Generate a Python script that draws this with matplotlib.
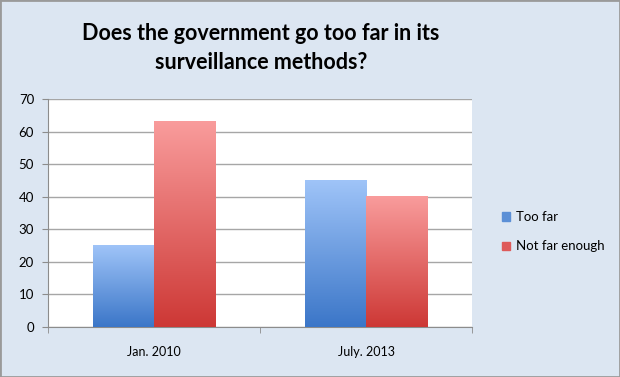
import numpy as np
import matplotlib.pyplot as plt
from matplotlib.colors import LinearSegmentedColormap
from matplotlib.patches import Rectangle

# Data
categories = ['Jan. 2010', 'July. 2013']
too_far = [25, 45]
not_far_enough = [63, 40]
series_names = ['Too far', 'Not far enough']

bg = '#dce6f2'
blue_cmap = LinearSegmentedColormap.from_list('b', ['#3b76c8', '#9fc4f8'])
red_cmap = LinearSegmentedColormap.from_list('r', ['#cd3835', '#f99c9c'])

fig = plt.figure(figsize=(6.2, 3.77), dpi=100, facecolor=bg)
fig.patches.append(Rectangle((0, 0), 1, 1, transform=fig.transFigure,
                             fill=False, edgecolor='#9a9a9a', linewidth=2))
ax = fig.add_axes([0.0774, 0.1326, 0.6839, 0.6048])
ax.set_facecolor('white')

x = np.arange(len(categories))
w = 0.288
grad = np.linspace(0, 1, 256).reshape(-1, 1)

bars1 = ax.bar(x - w / 2, too_far, w, color='#6b9de0', label=series_names[0], zorder=2)
bars2 = ax.bar(x + w / 2, not_far_enough, w, color='#e46a6a', label=series_names[1], zorder=2)

# gradient fill for each bar
for bars, cmap in [(bars1, blue_cmap), (bars2, red_cmap)]:
    for b in bars:
        x0, y0 = b.get_x(), b.get_y()
        x1, y1 = x0 + b.get_width(), y0 + b.get_height()
        ax.imshow(grad, extent=[x0, x1, y0, y1], origin='lower', cmap=cmap,
                  aspect='auto', zorder=3)
        b.set_alpha(0)

ax.set_xlim(-0.5, 1.5)
ax.set_ylim(0, 70)
ax.set_yticks(range(0, 71, 10))
ax.yaxis.grid(True, color='#a6a6a6', linewidth=1)
ax.set_axisbelow(True)

ax.set_xticks(x)
ax.set_xticklabels(categories, fontsize=9, family='Lato')
ax.set_xticks([-0.5, 0.5, 1.5], minor=True)
ax.tick_params(axis='x', which='major', length=0, pad=14)
ax.tick_params(axis='x', which='minor', length=4, color='#8c8c8c', direction='out')
ax.tick_params(axis='y', length=4, color='#8c8c8c', labelsize=9.5, pad=6)
for lab in ax.get_yticklabels():
    lab.set_family('Lato')

for s in ['top', 'right']:
    ax.spines[s].set_visible(False)
for s in ['left', 'bottom']:
    ax.spines[s].set_color('#8c8c8c')

fig.text(0.421, 0.873, 'Does the government go too far in its\nsurveillance methods?',
         ha='center', va='center', fontsize=15.5, fontweight='bold', family='Lato',
         linespacing=1.5)

handles = [Rectangle((0, 0), 1, 1, color='#5b8fd6'), Rectangle((0, 0), 1, 1, color='#de5a5a')]
fig.legend(handles, series_names, loc='center left', bbox_to_anchor=(0.79, 0.385),
           frameon=False, prop={'family': 'Lato', 'size': 9.5},
           handlelength=0.6, handleheight=0.6, handletextpad=0.5, labelspacing=1.3)

plt.savefig('out.png', dpi=100, facecolor=bg)
